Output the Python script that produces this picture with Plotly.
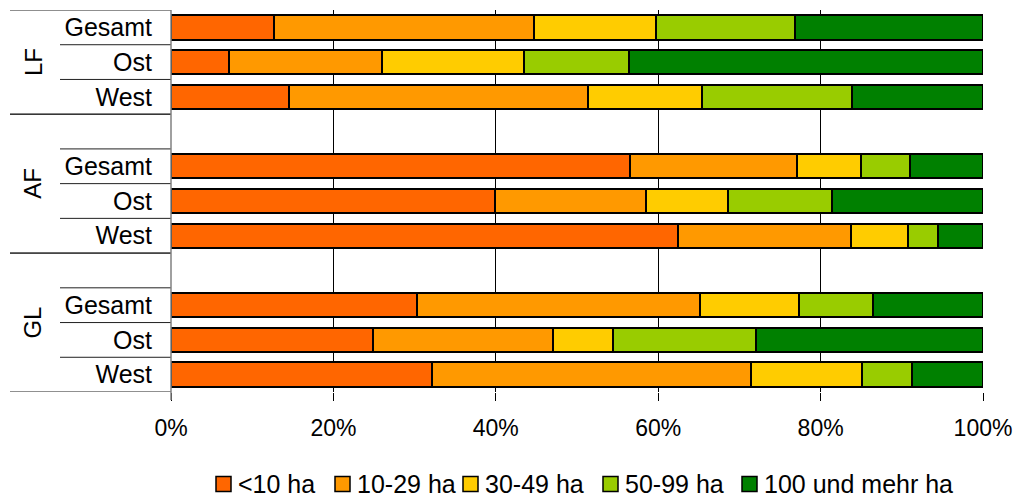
import plotly.graph_objects as go

# Flächenart-Gruppen und Teilgebiete
groups = ["LF", "AF", "GL"]
regions = ["Gesamt", "Ost", "West"]

# Größenklassen der Betriebe
classes = ["<10 ha", "10-29 ha", "30-49 ha", "50-99 ha", "100 und mehr ha"]
colors = ["#FF6600", "#FF9900", "#FFCC00", "#99CC00", "#008000"]

# Anteile in %, Reihenfolge: LF Gesamt/Ost/West, AF Gesamt/Ost/West, GL Gesamt/Ost/West
lt10 = [12.7, 7.2, 14.5, 56.5, 39.9, 62.4, 30.3, 24.9, 32.1]
ha10_29 = [32.0, 18.8, 36.8, 20.6, 18.6, 21.3, 34.9, 22.1, 39.3]
ha30_49 = [15.0, 17.5, 14.1, 7.9, 10.1, 7.1, 12.1, 7.4, 13.7]
ha50_99 = [17.1, 12.9, 18.5, 6.0, 12.8, 3.6, 9.1, 17.6, 6.2]
ha100 = [23.2, 43.6, 16.1, 9.0, 18.6, 5.6, 13.6, 28.0, 8.7]
series = [lt10, ha10_29, ha30_49, ha50_99, ha100]

x_ticks = [0, 20, 40, 60, 80, 100]
x_ticktext = ["0%", "20%", "40%", "60%", "80%", "100%"]

# --- layout geometry (pixels) ---
W, H = 1016, 498
PL, PR, PT, PB = 171, 983, 10, 392
FONT = "Liberation Sans, Arial, sans-serif"


def px_x(p):
    return (p - PL) / (PR - PL)


def px_y(p):
    return (PB - p) / (PB - PT)


# slot positions: each group after the first is preceded by an empty slot
pos = []
for g in range(len(groups)):
    for j in range(len(regions)):
        pos.append(g * 4 + j)
labels = [r for _ in groups for r in regions]

fig = go.Figure()
for name, vals, col in zip(classes, series, colors):
    fig.add_trace(go.Bar(
        x=vals, y=pos, orientation="h", name=name,
        marker=dict(color=col, line=dict(color="#000000", width=2)),
        width=0.7, showlegend=False,
        hovertemplate="%{x:.1f}%<extra>" + name + "</extra>",
    ))

shapes = []
annotations = []

# category axis separators
for g in range(len(groups)):
    start = -0.5 if g == 0 else 4 * g - 1.5
    end = 4 * g + 2.5
    k = start + 1
    while k < end:
        shapes.append(dict(type="line", xref="paper", yref="y",
                           x0=px_x(60), x1=0, y0=k, y1=k,
                           line=dict(color="#202020", width=1)))
        k += 1
    for b in (start, end):
        shapes.append(dict(type="line", xref="paper", yref="y",
                           x0=px_x(10), x1=0, y0=b, y1=b,
                           line=dict(color="#202020", width=1)))
    annotations.append(dict(
        text=groups[g], xref="paper", yref="y",
        x=px_x(33), y=(start + end) / 2, textangle=-90,
        showarrow=False, xanchor="center", yanchor="middle",
        font=dict(family=FONT, size=24, color="#000000"),
    ))

# left axis line running into the tick area
shapes.append(dict(type="line", xref="paper", yref="paper",
                   x0=0, x1=0, y0=px_y(400), y1=1,
                   line=dict(color="#808080", width=1.5)))

# legend drawn as boxes with labels
leg_left = [216, 335, 463, 603, 742]
leg_cy = 484
for name, col, lx in zip(classes, colors, leg_left):
    shapes.append(dict(type="rect", xref="paper", yref="paper",
                       x0=px_x(lx), x1=px_x(lx + 15),
                       y0=px_y(leg_cy + 7.5), y1=px_y(leg_cy - 7.5),
                       fillcolor=col, line=dict(color="#000000", width=1.5)))
    annotations.append(dict(
        text=name, xref="paper", yref="paper",
        x=px_x(lx + 20), y=px_y(leg_cy), showarrow=False,
        xanchor="left", yanchor="middle",
        font=dict(family=FONT, size=25, color="#000000"),
    ))

fig.update_layout(
    width=W, height=H,
    margin=dict(l=PL, r=W - PR, t=PT, b=H - PB, pad=0, autoexpand=False),
    barmode="stack",
    plot_bgcolor="#FFFFFF", paper_bgcolor="#FFFFFF",
    font=dict(family=FONT, color="#000000"),
    shapes=shapes, annotations=annotations,
    showlegend=False,
    xaxis=dict(
        range=[0, 100], tickvals=x_ticks, ticktext=x_ticktext,
        showgrid=True, gridcolor="#000000", gridwidth=1,
        zeroline=False, showline=False, automargin=False,
        ticks="outside", ticklen=8, tickcolor="#000000", tickwidth=1,
        ticklabelstandoff=7,
        tickfont=dict(family=FONT, size=23, color="#000000"),
        fixedrange=True,
    ),
    yaxis=dict(
        range=[10.5, -0.5], tickvals=pos, ticktext=labels,
        showgrid=False, zeroline=False, showline=False, automargin=False,
        ticks="", ticklabelstandoff=18,
        tickfont=dict(family=FONT, size=25, color="#000000"),
        fixedrange=True,
    ),
)

fig.write_html("out.html")
